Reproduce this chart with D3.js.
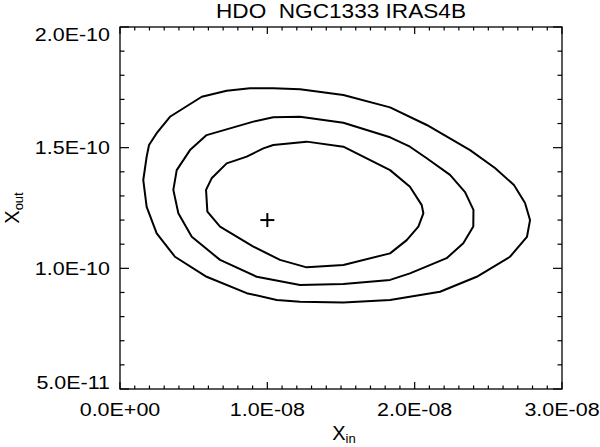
<!DOCTYPE html>
<html>
<head>
<meta charset="utf-8">
<script src="https://cdn.jsdelivr.net/npm/d3@7"></script>
<style>
  html, body { margin: 0; padding: 0; background: #fff; }
  svg { display: block; }
  text { font-family: "Liberation Sans", Arial, Helvetica, sans-serif; fill: #000; }
</style>
</head>
<body>
<svg id="chart" width="600" height="447"></svg>
<script>
// ---------------- data ----------------
const titleText = "HDO  NGC1333 IRAS4B";
const xDomain = [0, 3.0e-8];
const yDomain = [5.0e-11, 2.0e-10];
const xMajorTicks = [0, 1.0e-8, 2.0e-8, 3.0e-8];
const xTickLabels = ["0.0E+00", "1.0E-08", "2.0E-08", "3.0E-08"];
const yMajorTicks = [5.0e-11, 1.0e-10, 1.5e-10, 2.0e-10];
const yTickLabels = ["5.0E-11", "1.0E-10", "1.5E-10", "2.0E-10"];
const xMinorStep = 1.0e-9;
const yMinorStep = 1.0e-11;

// contour levels (X_in in units of 1e-8, X_out in units of 1e-10)
const outerX = [0.249,0.339,0.555,0.724,0.882,1.040,1.222,1.516,1.833,2.082,2.376,2.545,2.674,2.749,2.783,2.762,2.647,2.421,2.172,1.833,1.516,1.222,1.064,0.860,0.588,0.373,0.249,0.181,0.158,0.181,0.197];
const outerY = [1.560,1.628,1.711,1.736,1.746,1.746,1.742,1.718,1.667,1.594,1.490,1.416,1.345,1.271,1.200,1.130,1.048,0.965,0.903,0.869,0.858,0.862,0.869,0.897,0.965,1.048,1.145,1.255,1.366,1.463,1.511];
const middleX = [0.475,0.588,0.905,1.040,1.222,1.516,1.833,1.968,2.082,2.240,2.342,2.399,2.398,2.330,2.217,1.968,1.833,1.516,1.222,0.928,0.679,0.487,0.396,0.362,0.385];
const middleY = [1.490,1.552,1.608,1.626,1.628,1.603,1.543,1.504,1.456,1.387,1.316,1.242,1.173,1.104,1.042,0.979,0.952,0.935,0.931,0.965,1.035,1.131,1.228,1.325,1.407];
const innerX = [0.622,0.724,0.860,0.973,1.040,1.267,1.516,1.833,1.968,2.048,2.059,2.025,1.946,1.833,1.516,1.267,1.086,0.905,0.679,0.593,0.584];
const innerY = [1.373,1.435,1.463,1.497,1.511,1.525,1.504,1.407,1.338,1.262,1.228,1.173,1.117,1.062,1.014,1.004,1.035,1.090,1.173,1.235,1.325];
const bestFit = { xin: 1.0e-8, xout: 1.2e-10 };

// ---------------- layout ----------------
const svg = d3.select("#chart");
const plot = { left: 120, right: 562, top: 27, bottom: 389 };
const x = d3.scaleLinear().domain(xDomain).range([plot.left, plot.right]);
const y = d3.scaleLinear().domain(yDomain).range([plot.bottom, plot.top]);
const stretch = 1.13;

function stretchText(sel) {
  sel.each(function () {
    const len = this.getComputedTextLength();
    d3.select(this).attr("textLength", len * stretch).attr("lengthAdjust", "spacingAndGlyphs");
  });
}

// frame
svg.append("rect")
  .attr("x", plot.left).attr("y", plot.top)
  .attr("width", plot.right - plot.left).attr("height", plot.bottom - plot.top)
  .attr("fill", "none").attr("stroke", "#000").attr("stroke-width", 1.3);

// ticks
const xMinor = d3.range(xDomain[0], xDomain[1] + xMinorStep / 2, xMinorStep);
const yMinor = d3.range(yDomain[0], yDomain[1] + yMinorStep / 2, yMinorStep);
const xMajorLen = 7, xMinorLen = 3.5, yMajorLen = 9, yMinorLen = 4.5;
const isMajor = (v, arr) => arr.some(m => Math.abs(m - v) < 1e-20 + Math.abs(m) * 1e-6);

const tg = svg.append("g").attr("stroke", "#000").attr("stroke-width", 1.2);
xMinor.forEach(v => {
  const L = isMajor(v, xMajorTicks) ? xMajorLen : xMinorLen;
  tg.append("line").attr("x1", x(v)).attr("x2", x(v)).attr("y1", plot.bottom).attr("y2", plot.bottom - L);
  tg.append("line").attr("x1", x(v)).attr("x2", x(v)).attr("y1", plot.top).attr("y2", plot.top + L);
});
yMinor.forEach(v => {
  const L = isMajor(v, yMajorTicks) ? yMajorLen : yMinorLen;
  tg.append("line").attr("y1", y(v)).attr("y2", y(v)).attr("x1", plot.left).attr("x2", plot.left + L);
  tg.append("line").attr("y1", y(v)).attr("y2", y(v)).attr("x1", plot.right).attr("x2", plot.right - L);
});

// tick labels
const tickFont = 19, capH = tickFont * 0.716;
svg.append("g").selectAll("text").data(xMajorTicks).join("text")
  .attr("x", d => x(d)).attr("y", plot.bottom + 27)
  .attr("text-anchor", "middle").attr("font-size", tickFont)
  .text((d, i) => xTickLabels[i]).call(stretchText);

svg.append("g").selectAll("text").data(yMajorTicks).join("text")
  .attr("x", plot.left - 10)
  .attr("y", d => Math.min(plot.bottom, Math.max(plot.top + capH, y(d) + capH / 2)))
  .attr("text-anchor", "end").attr("font-size", tickFont)
  .text((d, i) => yTickLabels[i]).call(stretchText);

// title
svg.append("text")
  .attr("x", (plot.left + plot.right) / 2).attr("y", 17.5)
  .attr("text-anchor", "middle").attr("font-size", 20)
  .style("white-space", "pre")
  .text(titleText).call(stretchText);

// axis titles
const xt = svg.append("text").attr("x", 344).attr("y", 440)
  .attr("text-anchor", "middle").attr("font-size", 20);
xt.append("tspan").text("X");
xt.append("tspan").attr("font-size", 13).attr("dy", 3).text("in");

const yt = svg.append("text")
  .attr("transform", `translate(19,${(plot.top + plot.bottom) / 2}) rotate(-90)`)
  .attr("text-anchor", "middle").attr("font-size", 20);
yt.append("tspan").text("X");
yt.append("tspan").attr("font-size", 13).attr("dy", 4).text("out");

// contours
const line = d3.line().x(d => x(d[0] * 1e-8)).y(d => y(d[1] * 1e-10)).curve(d3.curveLinearClosed);
const levels = [[outerX, outerY], [middleX, middleY], [innerX, innerY]];
svg.append("g").selectAll("path").data(levels).join("path")
  .attr("d", d => line(d[0].map((v, i) => [v, d[1][i]])))
  .attr("fill", "none").attr("stroke", "#000").attr("stroke-width", 2)
  .attr("stroke-linejoin", "round");

// best-fit cross
const cx = x(bestFit.xin), cy = y(bestFit.xout), cs = 7;
const cg = svg.append("g").attr("stroke", "#000").attr("stroke-width", 2);
cg.append("line").attr("x1", cx - cs).attr("x2", cx + cs).attr("y1", cy).attr("y2", cy);
cg.append("line").attr("x1", cx).attr("x2", cx).attr("y1", cy - cs).attr("y2", cy + cs);
</script>
</body>
</html>
